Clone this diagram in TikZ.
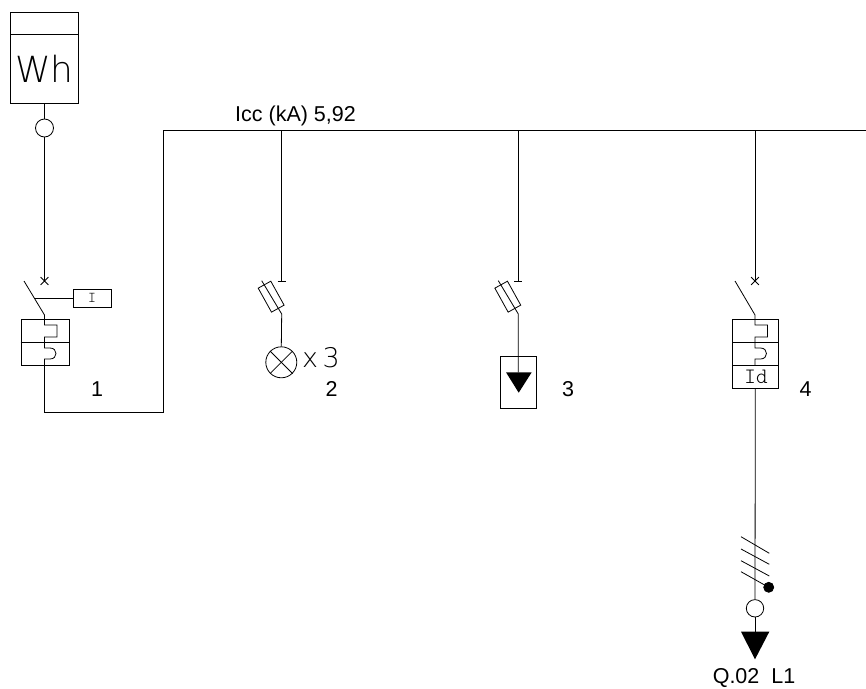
\documentclass[tikz,border=0pt]{standalone}
\usepackage{fontspec}
\setmainfont{Liberation Sans}
\newfontfamily\cadFont{DejaVu Sans ExtraLight}
\newfontfamily\cadMono{Latin Modern Mono Light}
\usetikzlibrary{shapes.misc}

\newcommand{\thinLineWidth}{0.8}
\newcommand{\busLineWidth}{1.5}
\newcommand{\busY}{130.5}
\newcommand{\crossY}{281}
\newcommand{\contactY}{315}
\newcommand{\mainX}{44.5}
\newcommand{\riserX}{163.5}
\newcommand{\returnY}{412.5}
\newcommand{\labelY}{396}
\newcommand{\branchTwoX}{281.7}
\newcommand{\branchThreeX}{518.3}
\newcommand{\branchFourX}{755}

\tikzset{
    wire/.style={line width=\thinLineWidth, black},
    busbar/.style={line width=\busLineWidth, black, line cap=rect},
    devicebox/.style={draw, line width=\thinLineWidth, inner sep=0, rectangle},
    ring/.style={draw, line width=\thinLineWidth, circle, inner sep=0, fill=white},
    crossmark/.style={draw, line width=\thinLineWidth, cross out, inner sep=0, minimum size=7},
    fusebox/.style={draw, line width=\thinLineWidth, rectangle, inner sep=0, minimum width=27.4, minimum height=14.4, rotate=-61},
    numberlabel/.style={font=\fontsize{21.5}{21.5}\selectfont, inner sep=0, anchor=base},
}

\begin{document}
\begin{tikzpicture}[x=1pt,y=-1pt]
        \useasboundingbox (0,0) rectangle (866,688);

        % Meter
        \node[devicebox, minimum width=68.5, minimum height=91] (meterBox) at (\mainX,57.5) {};
        \draw [wire] (10.25,34) -- (78.75,34);
        \node[font=\cadFont\fontsize{36}{36}\selectfont, inner sep=0] (meterText) at (\mainX,69) {Wh};
        \node[ring, minimum size=18] (meterRing) at (\mainX,128) {};
        \draw [wire] (meterBox.south) -- (meterRing.north);

        % Main breaker
        \node[crossmark] (crossOne) at (\mainX,\crossY) {};
        \coordinate (bladeOneTop) at (24,\crossY);
        \coordinate (contactOne) at (\mainX,\contactY);
        \coordinate (tripOne) at (34.5,298);
        \node[devicebox, minimum width=48, minimum height=46] (breakerOne) at (45,342) {};
        \node[devicebox, minimum width=38, minimum height=18] (coilBox) at (92,298) {};
        \node[font=\cadMono\fontsize{15}{15}\selectfont, inner sep=0] (coilText) at (coilBox.center) {I};
        \coordinate (returnCorner) at (\mainX,\returnY);
        \coordinate (riserFoot) at (\riserX,\returnY);
        \coordinate (riserTop) at (\riserX,\busY);
        \coordinate (busEnd) at (866,\busY);
        \draw [wire] (meterRing.south) -- (crossOne.center);
        \draw [wire] (bladeOneTop) -- (contactOne);
        \draw [wire] (tripOne) -- (coilBox.west);
        \draw [wire] (breakerOne.west) -- (breakerOne.east);
        \draw [wire] (contactOne) -- (\mainX,325) -- (57,325) -- (57,337) -- (\mainX,337) -- (\mainX,348) -- (50,348) .. controls (58,348) and (58,359) .. (50,359) -- (\mainX,359) -- (\mainX,365);
        \draw [wire] (\mainX,365) -- (returnCorner);
        \node[numberlabel] (labelOne) at (97,\labelY) {1};

        % Busbar
        \draw [busbar] (returnCorner) -- (riserFoot) -- (riserTop) -- (busEnd);
        \node[numberlabel] (busLabel) at (295.5,121.5) {Icc (kA) 5,92};

        % Lighting branch
        \coordinate (tapTwo) at (\branchTwoX,\busY);
        \coordinate (barTwo) at (\branchTwoX,\crossY);
        \node[fusebox] (fuseTwo) at (271.15,296.65) {};
        \coordinate (fuseTwoTop) at (261.7,280.7);
        \coordinate (fuseTwoFoot) at (\branchTwoX,314);
        \node[ring, minimum size=31] (lampTwo) at (281.3,362.3) {};
        \draw [wire] (tapTwo) -- (barTwo);
        \draw [wire] (\branchTwoX-4,\crossY) -- (\branchTwoX+4,\crossY);
        \draw [wire] (fuseTwoTop) -- (fuseTwoFoot) -- (lampTwo.north);
        \draw [wire] (lampTwo.north west) -- (lampTwo.south east);
        \draw [wire] (lampTwo.north east) -- (lampTwo.south west);
        \node[font=\cadFont\fontsize{27}{27}\selectfont, inner sep=0, anchor=base] (lampCount) at (321,367) {x\,3};
        \node[numberlabel] (labelTwo) at (331.7,\labelY) {2};

        % Socket branch
        \coordinate (tapThree) at (\branchThreeX,\busY);
        \coordinate (barThree) at (\branchThreeX,\crossY);
        \node[fusebox] (fuseThree) at (507.8,296.65) {};
        \coordinate (fuseThreeTop) at (498.3,280.7);
        \coordinate (fuseThreeFoot) at (\branchThreeX,314);
        \node[devicebox, minimum width=35.5, minimum height=52.3] (socketBox) at (518.4,382.2) {};
        \coordinate (socketLeft) at (506,372.3);
        \coordinate (socketRight) at (531.7,372.3);
        \coordinate (socketTip) at (518.7,392.7);
        \draw [wire] (tapThree) -- (barThree);
        \draw [wire] (\branchThreeX-4,\crossY) -- (\branchThreeX+4,\crossY);
        \draw [wire] (fuseThreeTop) -- (fuseThreeFoot) -- (\branchThreeX,372.3);
        \fill (socketLeft) -- (socketRight) -- (socketTip) -- cycle;
        \node[numberlabel] (labelThree) at (568,\labelY) {3};

        % Outgoing feeder
        \coordinate (tapFour) at (\branchFourX,\busY);
        \node[crossmark] (crossFour) at (\branchFourX,\crossY) {};
        \coordinate (bladeFourTop) at (735,\crossY);
        \coordinate (contactFour) at (\branchFourX,\contactY);
        \node[devicebox, minimum width=46, minimum height=69.3] (breakerFour) at (755.3,353.7) {};
        \node[ring, minimum size=17.4] (feederRing) at (\branchFourX,608.3) {};
        \node[font=\cadMono\fontsize{22}{22}\selectfont, inner sep=0] (residualText) at (756,377) {Id};
        \draw [wire] (tapFour) -- (crossFour.center);
        \draw [wire] (bladeFourTop) -- (contactFour);
        \draw [wire] (732.3,342) -- (778.3,342);
        \draw [wire] (732.3,365) -- (778.3,365);
        \draw [wire] (contactFour) -- (\branchFourX,325) -- (767.5,325) -- (767.5,337) -- (\branchFourX,337) -- (\branchFourX,348) -- (760.5,348) .. controls (768.5,348) and (768.5,359) .. (760.5,359) -- (\branchFourX,359) -- (\branchFourX,365);
        \draw [wire] (breakerFour.south) -- (feederRing.north);

        % Conductors
        \draw [wire] (741,536.7) -- (769.3,553.3);
        \draw [wire] (741,549) -- (769.3,564.3);
        \draw [wire] (741,560.7) -- (769.3,576);
        \node[ring, fill=black, minimum size=10] (neutralDot) at (768.7,587.3) {};
        \draw [wire] (741,571.7) -- (neutralDot.center);

        % Load
        \coordinate (loadLeft) at (741,631.7);
        \coordinate (loadRight) at (769.3,631.7);
        \coordinate (loadTip) at (755,659.3);
        \coordinate (loadTop) at (\branchFourX,631.7);
        \draw [wire] (feederRing.south) -- (loadTop);
        \fill (loadLeft) -- (loadRight) -- (loadTip) -- cycle;
        \node[numberlabel] (loadLabel) at (754,683) {Q.02\ \ L1};

        \node[numberlabel] (labelFour) at (805.7,\labelY) {4};
    \end{tikzpicture}
\end{document}
